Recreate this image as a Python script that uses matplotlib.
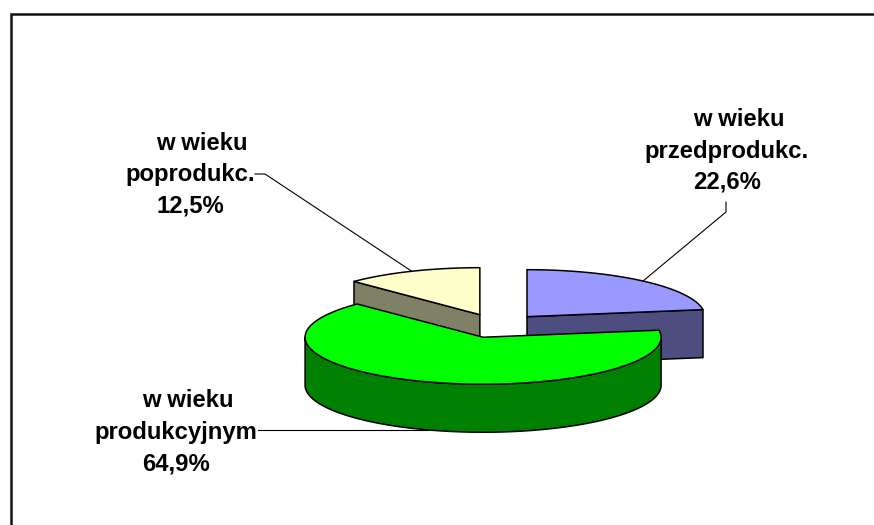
import numpy as np
import matplotlib
matplotlib.use("Agg")
import matplotlib.pyplot as plt
from matplotlib.patches import Polygon

# ---- data ----
categories = ["przedprodukc.", "produkcyjnym", "poprodukc."]
values = [22.6, 64.9, 12.5]
pct_labels = ["22,6%", "64,9%", "12,5%"]
top_colors = ["#9999FF", "#00FF00", "#FFFFCC"]
side_colors = ["#4D4D80", "#008000", "#808066"]

# ---- geometry (pixel space) ----
W, H = 874, 525
fig = plt.figure(figsize=(W / 100, H / 100), dpi=100)
ax = fig.add_axes([0, 0, 1, 1])
ax.set_xlim(0, W)
ax.set_ylim(H, 0)
ax.axis("off")

cx, cy = 497.3, 325.8
rx, ry = 178.0, 47.0
depth = 48.0
explode = 0.256
lw = 1.1

total = float(sum(values))
fracs = np.array(values) / total
ends = np.cumsum(fracs) * 360.0
starts = ends - fracs * 360.0


def rim(px, py, th_deg, dz=0.0):
    t = np.radians(th_deg)
    return px + rx * np.sin(t), py - ry * np.cos(t) + dz


slices = []
for i in range(len(values)):
    a0, a1 = starts[i], ends[i]
    mid = np.radians((a0 + a1) / 2)
    px = cx + explode * rx * np.sin(mid)
    py = cy - explode * ry * np.cos(mid)
    slices.append((py, i, a0, a1, px))

for py, i, a0, a1, px in sorted(slices):
    ec = "black"
    # radial faces
    if np.sin(np.radians(a0)) < -1e-6:
        x0, y0 = rim(px, py, a0)
        ax.add_patch(Polygon([(px, py), (x0, y0), (x0, y0 + depth), (px, py + depth)],
                             closed=True, fc=side_colors[i], ec=ec, lw=lw, joinstyle="round"))
    if np.sin(np.radians(a1)) > 1e-6:
        x1, y1 = rim(px, py, a1)
        ax.add_patch(Polygon([(px, py), (x1, y1), (x1, y1 + depth), (px, py + depth)],
                             closed=True, fc=side_colors[i], ec=ec, lw=lw, joinstyle="round"))
    # outer rim
    lo, hi = max(a0, 90.0), min(a1, 270.0)
    if hi > lo:
        th = np.linspace(lo, hi, 200)
        xt, yt = rim(px, py, th)
        pts = list(zip(xt, yt)) + list(zip(xt[::-1], (yt + depth)[::-1]))
        ax.add_patch(Polygon(pts, closed=True, fc=side_colors[i], ec=ec, lw=lw, joinstyle="round"))
    # top face
    th = np.linspace(a0, a1, 300)
    xt, yt = rim(px, py, th)
    pts = [(px, py)] + list(zip(xt, yt))
    ax.add_patch(Polygon(pts, closed=True, fc=top_colors[i], ec=ec, lw=lw, joinstyle="round"))

# ---- labels ----
fs = 17.2
font = dict(fontsize=fs, fontweight="bold", family=["Liberation Sans", "DejaVu Sans"],
            color="black", ha="center", va="baseline")
label_pos = {0: (727, [126, 158, 189]), 1: (176, [407, 439, 471]), 2: (190, [150, 181, 212])}
for i in range(len(values)):
    lx, ys = label_pos[i]
    ax.text(lx + 12, ys[0], "w wieku", **font)
    ax.text(lx, ys[1], categories[i], **font)
    ax.text(lx, ys[2], pct_labels[i], **font)

# ---- leader lines ----
sl = {i: (a0, a1, px, py) for py, i, a0, a1, px in slices}
# blue
a0, a1, px, py = sl[0]
ex, ey = rim(px, py, (a0 + a1) / 2)
ax.plot([726, 726, ex], [202, 212, ey], color="black", lw=0.8)
# yellow
a0, a1, px, py = sl[2]
ex, ey = rim(px, py, (a0 + a1) / 2)
ax.plot([255, 265, ex], [174, 174, ey], color="black", lw=0.8)
# green
a0, a1, px, py = sl[1]
ex, ey = rim(px, py, (a0 + a1) / 2, depth)
ax.plot([258, ex], [ey, ey], color="black", lw=0.8)

# ---- frame ----
ax.plot([11, 11, W + 5], [H + 5, 14, 14], color="#111111", lw=1.8, solid_joinstyle="miter", clip_on=False)

fig.savefig("out.png", dpi=100)
